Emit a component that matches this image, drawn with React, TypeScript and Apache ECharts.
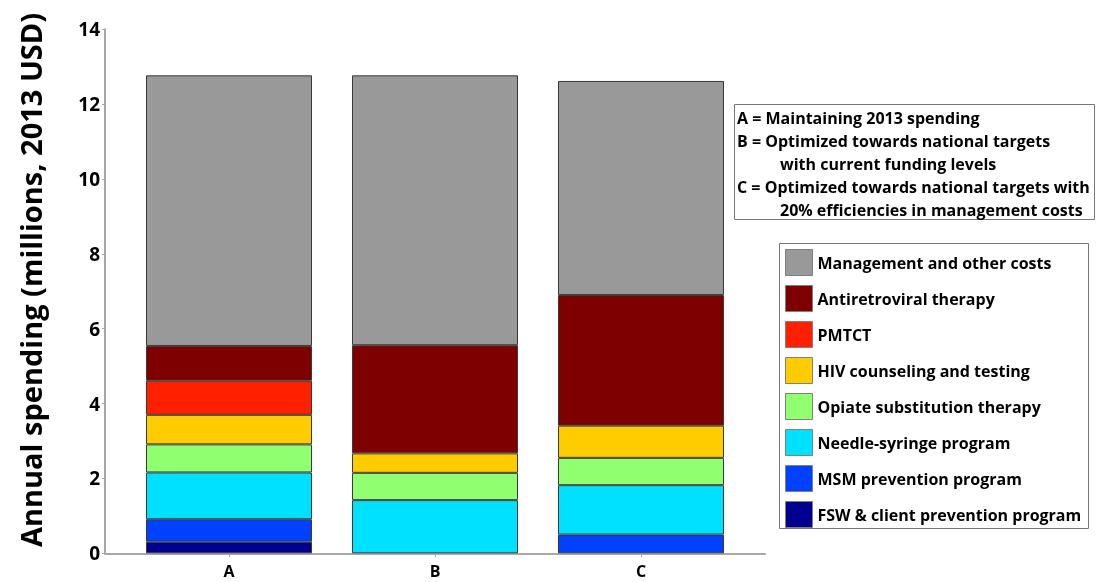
import React, { useEffect, useRef } from "react";
import * as echarts from "echarts";

const categories = ["A", "B", "C"];

// stacked from bottom to top
const seriesNames = [
  "FSW & client prevention program",
  "MSM prevention program",
  "Needle-syringe program",
  "Opiate substitution therapy",
  "HIV counseling and testing",
  "PMTCT",
  "Antiretroviral therapy",
  "Management and other costs",
];
const seriesColors = [
  "#00008f",
  "#0040ff",
  "#00e0ff",
  "#90ff70",
  "#ffcc00",
  "#ff2000",
  "#7f0000",
  "#999999",
];
const fswValues = [0.31, null, null];
const msmValues = [0.6, null, 0.5];
const needleValues = [1.25, 1.42, 1.32];
const opiateValues = [0.75, 0.73, 0.73];
const hctValues = [0.79, 0.52, 0.86];
const pmtctValues = [0.91, null, null];
const artValues = [0.93, 2.89, 3.49];
const managementValues = [7.23, 7.21, 5.72];
const seriesValues = [
  fswValues,
  msmValues,
  needleValues,
  opiateValues,
  hctValues,
  pmtctValues,
  artValues,
  managementValues,
];

const yTicks = [0, 2, 4, 6, 8, 10, 12, 14];
const yTitle = "Annual spending (millions, 2013 USD)";
const noteLines = [
  "A = Maintaining 2013 spending",
  "B = Optimized towards national targets",
  "with current funding levels",
  "C = Optimized towards national targets with",
  "20% efficiencies in management costs",
];
const noteIndent = [false, false, true, false, true];

const FONT = "'Open Sans', sans-serif";
const AXIS_GRAY = "#a8a8a8";

export default function App() {
  const ref = useRef<HTMLDivElement>(null);
  useEffect(() => {
    if (!ref.current) return;
    const chart = echarts.init(ref.current, null, { renderer: "svg" });
    const series = seriesNames.map((name, i) => ({
      name,
      type: "bar",
      stack: "total",
      barWidth: 166,
      xAxisIndex: 0,
      yAxisIndex: 0,
      data: seriesValues[i].map((v) => (v == null ? "-" : v)),
      itemStyle: { color: seriesColors[i], borderColor: "#3a3a3a", borderWidth: 1 },
      emphasis: { disabled: true },
    }));
    chart.setOption({
      animation: false,
      grid: [
        { left: 126, right: 352, top: 29.3, bottom: 28.7 },
        { left: 105, right: 331, top: 29.3, bottom: 28.7 },
      ],
      xAxis: [
        {
          type: "category",
          gridIndex: 0,
          data: categories,
          axisLine: { show: false },
          axisTick: { show: true, alignWithLabel: true, length: 4, lineStyle: { color: AXIS_GRAY } },
          axisLabel: {
            color: "#000",
            fontWeight: "bold",
            fontSize: 16,
            fontFamily: FONT,
            margin: 10,
          },
          splitLine: { show: false },
        },
        {
          type: "value",
          gridIndex: 1,
          min: 0,
          max: 1,
          axisLine: { show: true, lineStyle: { color: AXIS_GRAY, width: 2 } },
          axisTick: { show: false },
          axisLabel: { show: false },
          splitLine: { show: false },
        },
      ],
      yAxis: [
        {
          type: "value",
          gridIndex: 0,
          min: yTicks[0],
          max: yTicks[yTicks.length - 1],
          interval: 2,
          offset: 21,
          axisLine: { show: true, onZero: false, lineStyle: { color: AXIS_GRAY, width: 2 } },
          axisTick: { show: true, length: 3, lineStyle: { color: AXIS_GRAY } },
          axisLabel: { color: "#000", fontWeight: "bold", fontSize: 19, fontFamily: FONT, margin: 5 },
          splitLine: { show: false },
        },
        {
          type: "value",
          gridIndex: 1,
          min: 0,
          max: 1,
          show: false,
        },
      ],
      legend: {
        orient: "vertical",
        left: 785,
        top: 249,
        padding: 0,
        itemWidth: 27,
        itemHeight: 26,
        itemGap: 9,
        icon: "rect",
        data: [...seriesNames].reverse(),
        itemStyle: { borderColor: "#808080", borderWidth: 1 },
        textStyle: { color: "#000", fontWeight: "bold", fontSize: 16, fontFamily: FONT },
        selectedMode: false,
      },
      graphic: [
        {
          type: "text",
          x: 30,
          y: 280,
          rotation: Math.PI / 2,
          style: {
            text: yTitle,
            fill: "#000",
            font: `bold 29px ${FONT}`,
            textAlign: "center",
            textVerticalAlign: "middle",
          },
        },
        {
          type: "rect",
          shape: { x: 734.5, y: 104.5, width: 360, height: 115 },
          style: { fill: "#fff", stroke: "#777", lineWidth: 1 },
          z: 1,
        },
        ...noteLines.map((t, i) => ({
          type: "text",
          x: noteIndent[i] ? 780 : 737,
          y: 117.5 + 23.15 * i,
          z: 2,
          style: {
            text: t,
            fill: "#000",
            font: `bold 16px ${FONT}`,
            textAlign: "left",
            textVerticalAlign: "middle",
          },
        })),
        {
          type: "rect",
          shape: { x: 779.5, y: 243.5, width: 309, height: 285 },
          style: { fill: "none", stroke: "#777", lineWidth: 1 },
          z: 1,
        },
      ],
      series,
    });
    return () => chart.dispose();
  }, []);
  return <div ref={ref} style={{ position: "fixed", left: 0, top: 0, width: 1096, height: 582 }} />;
}
